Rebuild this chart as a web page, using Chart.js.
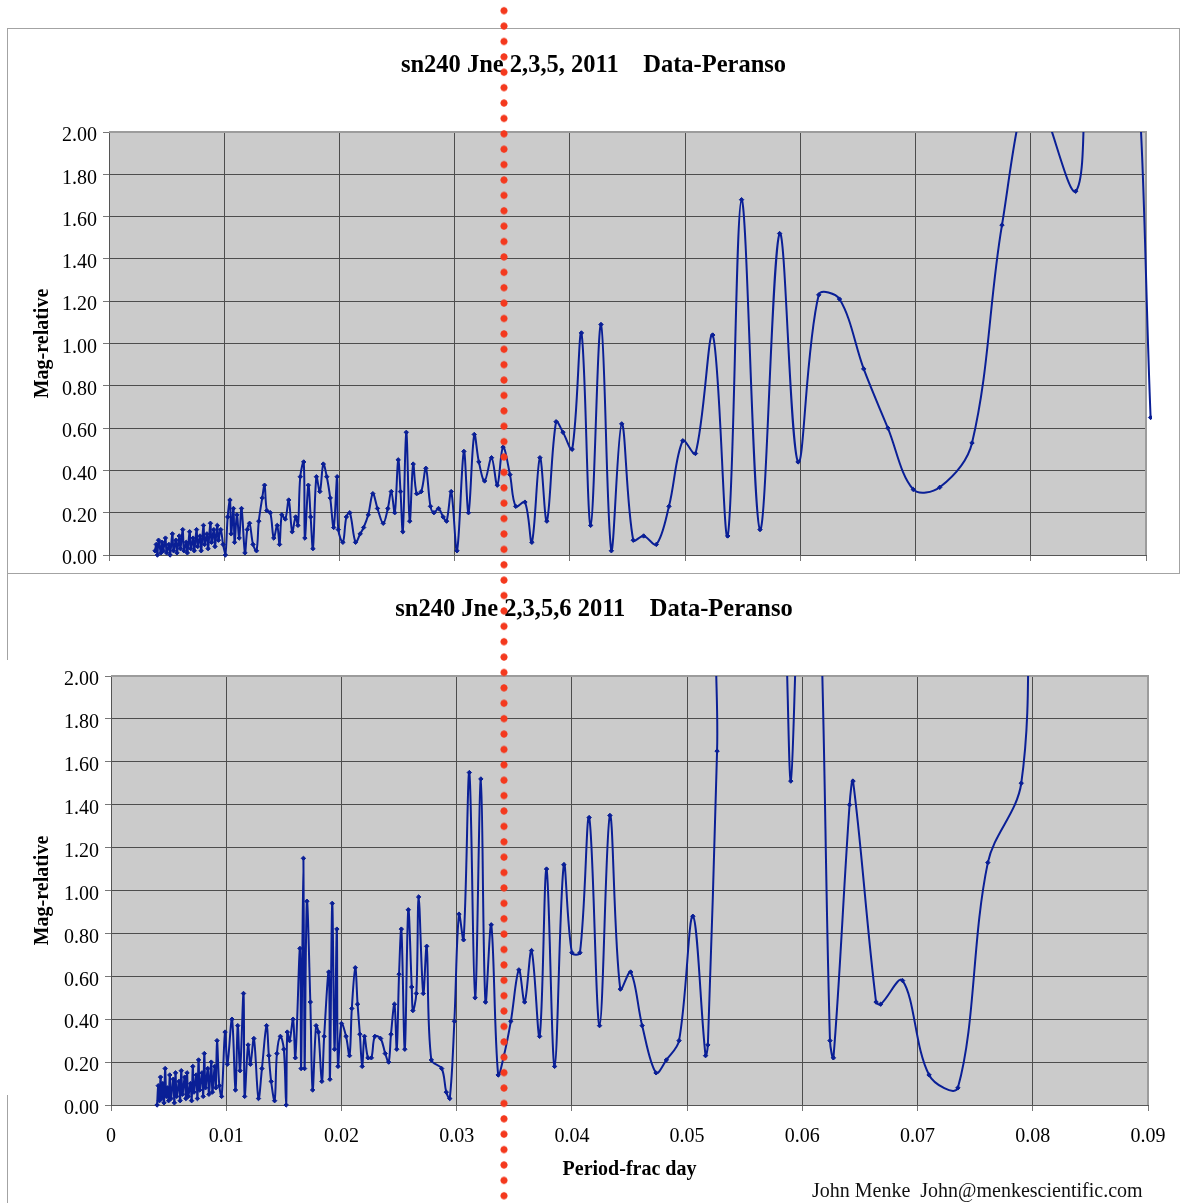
<!DOCTYPE html>
<html>
<head>
<meta charset="utf-8">
<title>sn240 Peranso</title>
<script src="https://cdn.jsdelivr.net/npm/chart.js@4.4.0/dist/chart.umd.min.js"></script>
<style>
  body { margin:0; background:#fff; width:1180px; height:1203px; position:relative; overflow:hidden; font-family:'Liberation Serif', serif; }
  #frameTop { position:absolute; left:7px; top:28px; width:1171px; height:544px; border:1px solid #a3a3a3; }
  #chartTop { position:absolute; left:8px; top:29px; }
  #chartBottom { position:absolute; left:8px; top:575px; }
  .edge { position:absolute; left:7px; width:1px; background:#a3a3a3; }
  #marker { position:absolute; top:3px; width:8px; height:1200px;
    background-image: radial-gradient(circle, #f4391e 3.2px, rgba(244,57,30,0) 3.9px);
    background-size: 8px 15.4px; background-repeat: repeat-y; }
  #credit { position:absolute; left:812px; top:1180px; font-size:20px; line-height:20px; color:#111; white-space:pre; }
</style>
</head>
<body>
<div id="frameTop"></div>
<canvas id="chartTop" width="1171" height="544" style="width:1171px;height:544px"></canvas>
<div class="edge" style="top:574px;height:86px"></div>
<div class="edge" style="top:1095px;height:108px"></div>
<canvas id="chartBottom" width="1172" height="628" style="width:1172px;height:628px"></canvas>
<div id="marker"></div>
<div id="credit">John Menke  John@menkescientific.com</div>

<script>
// titles / axis text
const topTitle = 'sn240 Jne 2,3,5, 2011    Data-Peranso';
const bottomTitle = 'sn240 Jne 2,3,5,6 2011    Data-Peranso';
const xAxisTitle = 'Period-frac day';
const yAxisTitle = 'Mag-relative';
const xTickLabels = ['0','0.01','0.02','0.03','0.04','0.05','0.06','0.07','0.08','0.09'];
const yTickLabels = ['0.00','0.20','0.40','0.60','0.80','1.00','1.20','1.40','1.60','1.80','2.00'];
const markerPeriod = 0.0343;

// top chart: Jne 2,3,5
const topPeriods = [
  0.0040,0.0041,0.0042,0.0043,0.0045,0.0046,0.0047,0.0049,0.0050,0.0052,
  0.0053,0.0055,0.0056,0.0058,0.0059,0.0061,0.0062,0.0064,0.0065,0.0067,
  0.0068,0.0070,0.0071,0.0073,0.0074,0.0076,0.0077,0.0079,0.0080,0.0082,
  0.0083,0.0085,0.0086,0.0088,0.0089,0.0091,0.0092,0.0094,0.0095,0.0097,
  0.0099,0.0101,0.0103,0.0105,0.0106,0.0108,0.0109,0.0111,0.0113,0.0115,
  0.0118,0.0120,0.0122,0.0125,0.0128,0.0130,0.0133,0.0135,0.0137,0.0140,
  0.0143,0.0146,0.0148,0.0150,0.0153,0.0156,0.0159,0.0162,0.0164,0.0166,
  0.0169,0.0170,0.0173,0.0175,0.0177,0.0180,0.0183,0.0186,0.0189,0.0192,
  0.0195,0.0198,0.0199,0.0203,0.0206,0.0209,0.0214,0.0218,0.0221,0.0225,
  0.0229,0.0233,0.0238,0.0242,0.0245,0.0248,0.0251,0.0253,0.0255,0.0258,
  0.0261,0.0264,0.0267,0.0271,0.0275,0.0279,0.0282,0.0286,0.0290,0.0293,
  0.0297,0.0302,0.0308,0.0312,0.0317,0.0321,0.0326,0.0332,0.0337,0.0342,
  0.0348,0.0353,0.0361,0.0367,0.0374,0.0380,0.0388,0.0394,0.0402,0.0410,
  0.0418,0.0427,0.0436,0.0445,0.0455,0.0464,0.0475,0.0486,0.0498,0.0509,
  0.0524,0.0537,0.0549,0.0565,0.0582,0.0598,0.0616,0.0634,0.0655,0.0676,
  0.0698,0.0721,0.0749,0.0775,0.0801,0.0839,0.0850,0.0870,0.0890,0.0904
];
const topMags = [
  0.02,0.05,0.00,0.07,0.01,0.06,0.02,0.08,0.01,0.05,
  0.00,0.10,0.02,0.07,0.01,0.09,0.03,0.12,0.02,0.06,
  0.01,0.11,0.03,0.08,0.02,0.12,0.04,0.09,0.02,0.14,
  0.05,0.10,0.03,0.15,0.06,0.12,0.04,0.14,0.07,0.12,
  0.05,0.00,0.18,0.26,0.10,0.22,0.06,0.19,0.08,0.22,
  0.01,0.12,0.15,0.05,0.02,0.16,0.27,0.33,0.21,0.20,
  0.08,0.14,0.05,0.19,0.17,0.26,0.11,0.18,0.14,0.37,
  0.44,0.08,0.33,0.18,0.03,0.37,0.30,0.43,0.37,0.27,
  0.13,0.37,0.12,0.06,0.18,0.20,0.06,0.10,0.13,0.19,
  0.29,0.22,0.15,0.22,0.30,0.20,0.45,0.30,0.11,0.58,
  0.16,0.43,0.29,0.30,0.41,0.23,0.20,0.22,0.18,0.16,
  0.30,0.02,0.49,0.20,0.57,0.44,0.35,0.46,0.33,0.51,
  0.38,0.23,0.25,0.06,0.46,0.16,0.63,0.58,0.50,1.05,
  0.14,1.09,0.02,0.62,0.07,0.09,0.05,0.23,0.54,0.48,
  1.04,0.09,1.68,0.12,1.52,0.44,1.23,1.21,0.88,0.60,
  0.31,0.32,0.53,1.56,2.20,1.72,2.50,3.00,2.50,0.65
];

// bottom chart: Jne 2,3,5,6
const bottomPeriods = [
  0.0040,0.0041,0.0042,0.0043,0.0044,0.0045,0.0046,0.0047,0.0048,0.0049,
  0.0050,0.0051,0.0052,0.0054,0.0055,0.0056,0.0057,0.0059,0.0060,0.0061,
  0.0062,0.0064,0.0065,0.0066,0.0067,0.0069,0.0070,0.0071,0.0072,0.0074,
  0.0075,0.0076,0.0077,0.0079,0.0080,0.0081,0.0082,0.0084,0.0085,0.0087,
  0.0088,0.0090,0.0091,0.0092,0.0094,0.0096,0.0099,0.0101,0.0105,0.0108,
  0.0110,0.0112,0.0115,0.0116,0.0119,0.0121,0.0124,0.0128,0.0131,0.0135,
  0.0137,0.0139,0.0142,0.0144,0.0147,0.0150,0.0152,0.0153,0.0155,0.0158,
  0.0160,0.0164,0.0165,0.0167,0.0168,0.0170,0.0173,0.0175,0.0178,0.0180,
  0.0183,0.0185,0.0189,0.0190,0.0192,0.0194,0.0196,0.0197,0.0200,0.0204,
  0.0207,0.0209,0.0212,0.0214,0.0216,0.0218,0.0220,0.0223,0.0226,0.0229,
  0.0234,0.0238,0.0241,0.0243,0.0246,0.0248,0.0250,0.0252,0.0255,0.0258,
  0.0261,0.0262,0.0265,0.0267,0.0271,0.0274,0.0278,0.0287,0.0291,0.0294,
  0.0298,0.0302,0.0306,0.0311,0.0316,0.0321,0.0325,0.0330,0.0336,0.0341,
  0.0347,0.0354,0.0359,0.0365,0.0372,0.0378,0.0385,0.0393,0.0400,0.0407,
  0.0415,0.0424,0.0433,0.0442,0.0451,0.0461,0.0473,0.0482,0.0493,0.0505,
  0.0516,0.0518,0.0526,0.0530,0.0578,0.0586,0.0590,0.0595,0.0603,0.0614,
  0.0624,0.0627,0.0641,0.0644,0.0664,0.0668,0.0687,0.0710,0.0735,0.0761,
  0.0790,0.0797
];
const bottomMags = [
  0.00,0.09,0.02,0.13,0.03,0.10,0.01,0.17,0.04,0.08,
  0.02,0.14,0.03,0.12,0.01,0.15,0.04,0.11,0.02,0.16,
  0.05,0.13,0.03,0.15,0.04,0.10,0.02,0.18,0.06,0.14,
  0.03,0.21,0.07,0.15,0.04,0.24,0.08,0.17,0.05,0.20,
  0.06,0.18,0.08,0.30,0.09,0.04,0.34,0.19,0.40,0.07,
  0.37,0.16,0.52,0.04,0.28,0.19,0.31,0.03,0.17,0.37,
  0.23,0.11,0.02,0.24,0.32,0.26,0.00,0.34,0.30,0.40,
  0.22,0.73,0.17,1.15,0.17,0.95,0.48,0.07,0.37,0.34,
  0.11,0.32,0.62,0.12,0.94,0.26,0.82,0.18,0.38,0.32,
  0.23,0.45,0.64,0.47,0.33,0.18,0.32,0.22,0.22,0.32,
  0.31,0.24,0.20,0.33,0.47,0.26,0.61,0.82,0.26,0.91,
  0.55,0.44,0.52,0.97,0.52,0.74,0.21,0.17,0.06,0.03,
  0.39,0.89,0.77,1.55,0.50,1.52,0.48,0.84,0.14,0.23,
  0.39,0.63,0.48,0.72,0.32,1.10,0.18,1.12,0.71,0.71,
  1.34,0.37,1.35,0.54,0.62,0.37,0.15,0.21,0.30,0.88,
  0.23,0.28,1.65,2.50,3.20,2.15,1.51,2.20,3.20,2.60,
  0.30,0.22,1.40,1.51,0.48,0.47,0.58,0.14,0.08,1.13,
  1.50,2.50
];

const lineColor = '#0a1f96';

Chart.defaults.font.family = "'Liberation Serif', 'Times New Roman', serif";
Chart.defaults.color = '#000';

const plotBackground = {
  id: 'plotBackground',
  beforeDraw(chart) {
    const {ctx, chartArea: a} = chart;
    ctx.save();
    ctx.fillStyle = '#cbcbcb';
    ctx.fillRect(a.left, a.top, a.right - a.left, a.bottom - a.top);
    ctx.restore();
  },
  beforeDatasetsDraw(chart) {
    const {ctx, chartArea: a} = chart;
    ctx.save();
    ctx.strokeStyle = '#9c9c9c';
    ctx.lineWidth = 2;
    ctx.beginPath();
    ctx.moveTo(a.left, a.top);
    ctx.lineTo(a.right, a.top);
    ctx.lineTo(a.right, a.bottom);
    ctx.stroke();
    ctx.restore();
  }
};

function buildPoints(periods, mags) {
  const pts = [];
  periods.forEach((p, i) => {
    pts.push({x: p, y: mags[i]});
  });
  return pts;
}

function buildConfig(points, title, opt) {
  return {
    type: 'scatter',
    data: {
      datasets: [{
        data: points,
        showLine: true,
        tension: 0.35,
        borderColor: lineColor,
        backgroundColor: lineColor,
        borderWidth: 2,
        pointStyle: 'rectRot',
        pointRadius: 2.2,
        pointBorderWidth: 1,
        clip: {left: 0, top: 0, right: 6, bottom: 3}
      }]
    },
    options: {
      responsive: false,
      animation: false,
      layout: { padding: 0 },
      plugins: {
        legend: { display: false },
        tooltip: { enabled: false },
        title: {
          display: true,
          text: title,
          font: { size: 24.5, weight: 'bold' },
          color: '#000',
          padding: { top: opt.titleTop, bottom: opt.titleBottom }
        }
      },
      scales: {
        x: {
          type: 'linear',
          min: 0,
          max: 0.09,
          ticks: {
            display: opt.showX,
            stepSize: 0.01,
            padding: 14,
            font: { size: 20 },
            color: '#000',
            callback: (v, i) => xTickLabels[i]
          },
          grid: { color: '#4d4d4d', lineWidth: 1, tickLength: 6, tickColor: '#777' },
          border: { color: '#555', width: 1 },
          title: {
            display: opt.showX,
            text: xAxisTitle,
            font: { size: 20, weight: 'bold' },
            color: '#000',
            padding: { top: 0, bottom: 21 }
          },
          afterFit: (scale) => { scale.height = opt.xHeight; }
        },
        y: {
          min: 0,
          max: 2,
          ticks: {
            stepSize: 0.2,
            padding: 6,
            labelOffset: 4,
            font: { size: 20 },
            color: '#000',
            callback: (v, i) => yTickLabels[i]
          },
          grid: { color: '#4d4d4d', lineWidth: 1, tickLength: 6, tickColor: '#777' },
          border: { color: '#555', width: 1 },
          title: {
            display: true,
            text: yAxisTitle,
            font: { size: 20, weight: 'bold' },
            color: '#000',
            padding: { top: 23, bottom: 0 }
          },
          afterFit: (scale) => { scale.width = opt.yWidth; }
        },
        // empty right-hand box so the title stays centred on the whole canvas
        yPad: {
          position: 'right',
          min: 0,
          max: 1,
          ticks: { display: false },
          grid: { display: false },
          border: { display: false },
          afterFit: (scale) => { scale.width = opt.padRight; }
        }
      }
    },
    plugins: [plotBackground]
  };
}

function initChartTop() {
  const cfg = buildConfig(buildPoints(topPeriods, topMags), topTitle,
    { padRight: 33, titleTop: 22.4, titleBottom: 51.2, showX: false, xHeight: 13, yWidth: 101 });
  return new Chart(document.getElementById('chartTop'), cfg);
}

function initChartBottom() {
  const cfg = buildConfig(buildPoints(bottomPeriods, bottomMags), bottomTitle,
    { padRight: 32, titleTop: 20.4, titleBottom: 51.2, showX: true, xHeight: 98, yWidth: 103 });
  return new Chart(document.getElementById('chartBottom'), cfg);
}

function placeMarker(chart) {
  const canvas = chart.canvas;
  const px = canvas.offsetLeft + chart.scales.x.getPixelForValue(markerPeriod);
  document.getElementById('marker').style.left = (px - 4) + 'px';
}

const topChart = initChartTop();
initChartBottom();
placeMarker(topChart);
</script>
</body>
</html>
